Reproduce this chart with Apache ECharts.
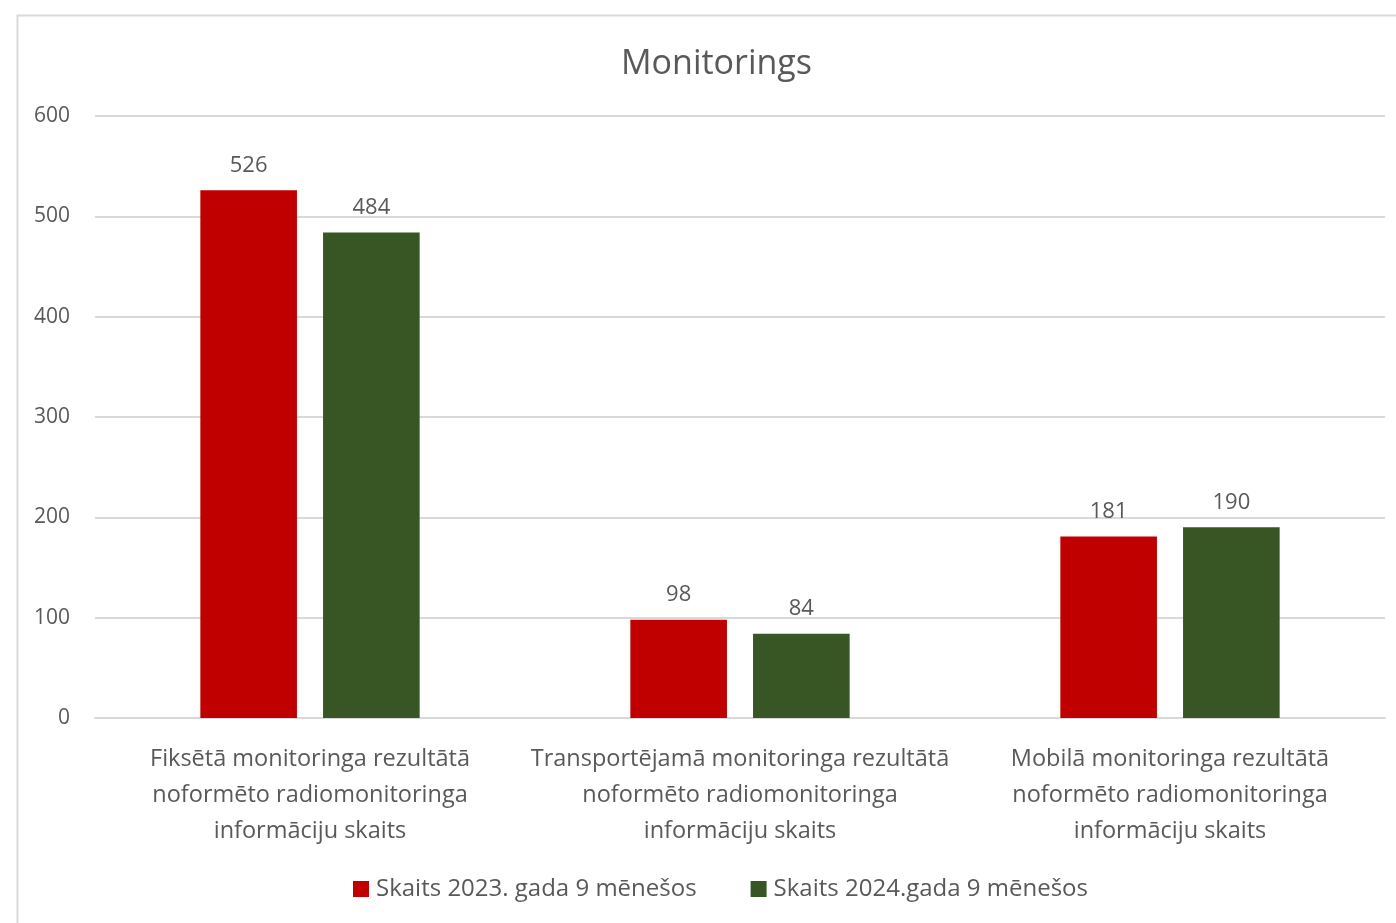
<!DOCTYPE html>
<html>
<head>
<meta charset="utf-8">
<script src="https://cdn.jsdelivr.net/npm/echarts@6/dist/echarts.min.js"></script>
<style>
  html, body { margin: 0; padding: 0; background: #fff; }
  #chart { width: 1396px; height: 923px; }
</style>
</head>
<body>
<div id="chart"></div>
<script>
// data
var categories = [
    'Fiksētā monitoringa rezultātā\nnoformēto radiomonitoringa\ninformāciju skaits',
    'Transportējamā monitoringa rezultātā\nnoformēto radiomonitoringa\ninformāciju skaits',
    'Mobilā monitoringa rezultātā\nnoformēto radiomonitoringa\ninformāciju skaits'
];
var values2023 = [526, 98, 181];
var values2024 = [484, 84, 190];
var seriesNames = ['Skaits 2023. gada 9 mēnešos', 'Skaits 2024.gada 9 mēnešos'];

var txt = '#595959';
var font = 'Open Sans';

var mychart = echarts.init(document.getElementById('chart'));
var option = {
    color: ['#c00000', '#375623'],
    textStyle: { fontFamily: font },
    title: {
        text: 'Monitorings',
        left: 616,
        top: 42,
        textStyle: { color: txt, fontSize: 34, fontWeight: 'normal', fontFamily: font }
    },
    legend: {
        bottom: 17,
        left: 348,
        itemWidth: 16,
        itemHeight: 16,
        itemGap: 54,
        icon: 'rect',
        textStyle: { color: txt, fontSize: 24, fontFamily: font, padding: [0, 0, 0, 2] },
        data: seriesNames
    },
    graphic: [{
        type: 'rect',
        left: 15,
        top: 13,
        shape: { width: 1400, height: 930 },
        style: { fill: 'none', stroke: '#d9d9d9', lineWidth: 2 },
        silent: true
    }],
    grid: {
        left: 95,
        right: 11,
        top: 116,
        bottom: 205,
        containLabel: false
    },
    xAxis: {
        type: 'category',
        data: categories,
        axisLine: { lineStyle: { color: '#d9d9d9', width: 2 } },
        axisTick: { show: false },
        axisLabel: {
            color: txt,
            fontSize: 23.5,
            lineHeight: 36,
            margin: 23,
            interval: 0,
            fontFamily: font
        }
    },
    yAxis: {
        type: 'value',
        min: 0,
        max: 600,
        interval: 100,
        axisLine: { show: false },
        axisTick: { show: false },
        splitLine: { lineStyle: { color: '#d9d9d9', width: 2 } },
        axisLabel: { color: txt, fontSize: 21, margin: 25, fontFamily: font }
    },
    series: [
        {
            name: seriesNames[0],
            type: 'bar',
            data: values2023,
            barCategoryGap: '49%',
            barGap: '27%',
            label: { show: true, position: 'top', distance: 14, color: txt, fontSize: 22, fontFamily: font }
        },
        {
            name: seriesNames[1],
            type: 'bar',
            data: values2024,
            barCategoryGap: '49%',
            barGap: '27%',
            label: { show: true, position: 'top', distance: 14, color: txt, fontSize: 22, fontFamily: font }
        }
    ]
};
mychart.setOption(option);
</script>
</body>
</html>
